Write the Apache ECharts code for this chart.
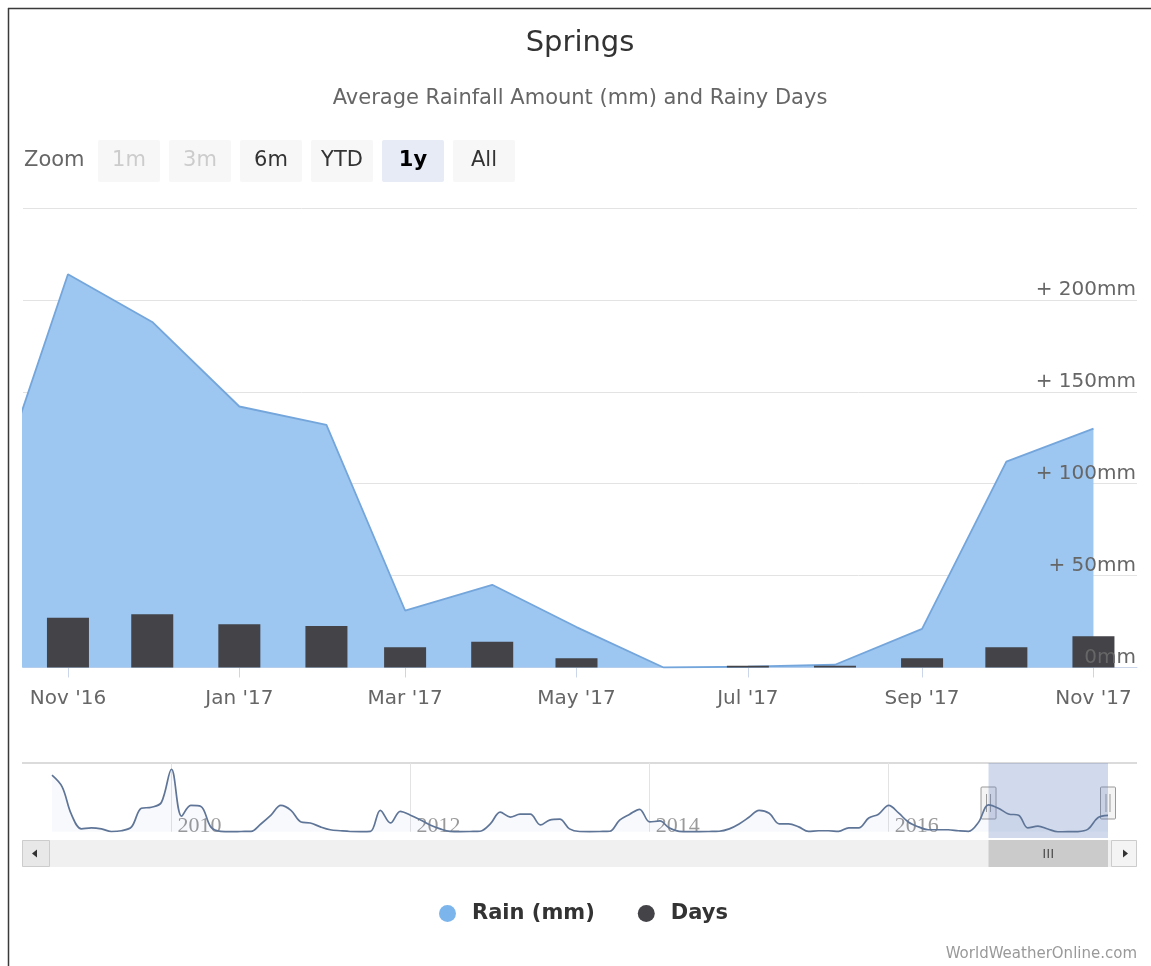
<!DOCTYPE html>
<html>
<head>
<meta charset="utf-8">
<script src="https://cdn.jsdelivr.net/npm/echarts@6/dist/echarts.min.js"></script>
<style>
html,body{margin:0;padding:0;background:#fff;}
#chart{width:1151px;height:966px;}
</style>
</head>
<body>
<div id="chart"></div>
<script>
// ---------------- DATA ----------------
// Monthly average rainfall (mm), read from the navigator: Jan 2009 .. Sep 2016
const historyStartMonth = '2009-01';
const rainHistory = [
  451, 358, 140, 23, 31, 23, 2, 8, 39, 187, 195, 233,   // 2009
  498, 124, 210, 202, 39, 3, 1, 2, 3, 62, 132, 210,     // 2010
  171, 78, 70, 39, 16, 8, 2, 1, 3, 171, 70, 163,        // 2011
  132, 93, 54, 23, 3, 1, 2, 4, 62, 156, 117, 140,       // 2012
  140, 54, 93, 101, 23, 2, 1, 2, 4, 93, 140, 179,       // 2013
  78, 86, 31, 3, 1, 1, 2, 4, 23, 62, 117, 171,          // 2014
  148, 62, 62, 39, 3, 8, 8, 3, 31, 31, 109, 140,        // 2015
  210, 148, 78, 39, 16, 16, 16, 8, 3                    // 2016 Jan-Sep
];
// Monthly rainfall (mm) in the zoomed view: Oct 2016 .. Nov 2017
const rainRecent = [73, 214, 188, 142, 132, 31, 45, 22, 0, 0.5, 1.5, 21, 112, 130];
// Rainy days: Nov 2016 .. Nov 2017
const daysStartMonth = '2016-11';
const rainyDays = [27, 29, 23.5, 22.6, 11, 14, 5, 0, 1, 1, 5, 11, 17];

// Axis ticks / labels
const xTickMonths = ['2016-11', '2017-01', '2017-03', '2017-05', '2017-07', '2017-09', '2017-11'];
const monthNames = ['Jan','Feb','Mar','Apr','May','Jun','Jul','Aug','Sep','Oct','Nov','Dec'];
const navYearTicks = ['2010-01', '2012-01', '2014-01', '2016-01'];
const zoomButtons = ['1m', '3m', '6m', 'YTD', '1y', 'All'];
const disabledButtons = ['1m', '3m'];
const selectedButton = '1y';
const navWindow = ['2016-11', '2017-11'];      // selected range in navigator
const navExtent = ['2009-01', '2017-11'];      // navigator axis extent
const seriesNames = ['Rain (mm)', 'Days'];

// ---------------- HELPERS ----------------
function monthTs(s) { const [y, m] = s.split('-').map(Number); return Date.UTC(y, m - 1, 1); }
function addMonths(s, k) { const [y, m] = s.split('-').map(Number); return Date.UTC(y, m - 1 + k, 1); }

const rainAll = rainHistory.concat(rainRecent);
const rainData = rainAll.map((v, i) => [addMonths(historyStartMonth, i), v]);
const daysData = rainyDays.map((v, i) => [addMonths(daysStartMonth, i), v]);

const viewStart = Date.UTC(2016, 9, 16, 0);
const viewEnd = Date.UTC(2017, 10, 16, 12);

const FONT = '"DejaVu Sans", "Lucida Grande", sans-serif';

const navMaxVal = Math.max.apply(null, rainAll);
const navPad = navMaxVal * 0.1;

function fmtMonth(v) {
  const d = new Date(v);
  return monthNames[d.getUTCMonth()] + " '" + String(d.getUTCFullYear()).slice(2);
}

const option = {
  animation: false,
  backgroundColor: '#fff',
  title: {
    text: 'Springs',
    subtext: 'Average Rainfall Amount (mm) and Rainy Days',
    left: 580, top: 29, padding: 0, itemGap: 30,
    textAlign: 'center',
    textStyle: { fontFamily: FONT, fontSize: 29, fontWeight: 'normal', color: '#333' },
    subtextStyle: { fontFamily: FONT, fontSize: 21, color: '#666' }
  },
  legend: {
    data: seriesNames,
    left: 439, top: 903, padding: 0,
    icon: 'circle', itemWidth: 17, itemHeight: 17, itemGap: 43,
    textStyle: { fontFamily: FONT, fontSize: 21, fontWeight: 'bold', color: '#333', padding: [0, 0, 0, 11] }
  },
  grid: [
    { left: 23, right: 14, top: 208, bottom: 298.5 },
    { left: 52, right: 43, top: 763, height: 75 }
  ],
  xAxis: [
    {
      type: 'value', gridIndex: 0, min: viewStart, max: viewEnd, scale: true,
      axisLine: { show: true, lineStyle: { color: '#ccd6eb', width: 1 } },
      axisTick: { show: true, customValues: xTickMonths.map(monthTs), length: 10, lineStyle: { color: '#ccd6eb' } },
      axisLabel: { customValues: xTickMonths.map(monthTs), formatter: fmtMonth, color: '#666', fontSize: 20, fontFamily: FONT, margin: 21, showMinLabel: true, showMaxLabel: true },
      splitLine: { show: false }
    },
    {
      type: 'value', gridIndex: 1, min: monthTs(navExtent[0]), max: monthTs(navExtent[1]), scale: true,
      axisLine: { show: false, onZero: true },
      axisTick: { show: true, inside: true, length: 69, customValues: navYearTicks.map(monthTs), lineStyle: { color: '#e3e3e3' } },
      axisLabel: {
        inside: true, customValues: navYearTicks.map(monthTs),
        formatter: v => String(new Date(v).getUTCFullYear()),
        align: 'left', padding: [0, 0, 0, 6], margin: 1,
        color: '#9a9a9a', fontSize: 22, fontFamily: '"Liberation Serif", serif'
      },
      splitLine: { show: false }
    }
  ],
  yAxis: [
    {
      type: 'value', gridIndex: 0, min: 0, max: 250, interval: 50, position: 'right',
      axisLine: { show: false }, axisTick: { show: false }, axisLabel: { show: false },
      splitLine: { show: true, lineStyle: { color: '#e3e3e3', width: 1 } }
    },
    {
      type: 'value', gridIndex: 0, min: 0, max: 250, interval: 50, position: 'right', z: 10,
      axisLine: { show: false }, axisTick: { show: false }, splitLine: { show: false },
      axisLabel: {
        inside: true, showMaxLabel: false, margin: 1, verticalAlign: 'bottom',
        formatter: v => (v === 0 ? '0mm' : '+ ' + v + 'mm'),
        color: '#666', fontSize: 20, fontFamily: FONT
      }
    },
    {
      type: 'value', gridIndex: 1, min: -navPad, max: navMaxVal + navPad, show: false
    }
  ],
  series: [
    {
      name: seriesNames[0], type: 'line', xAxisIndex: 0, yAxisIndex: 0,
      data: rainData, showSymbol: false, clip: true, z: 2,
      itemStyle: { color: '#7cb5ec' },
      lineStyle: { color: '#74a6dc', width: 1.8 },
      areaStyle: { color: '#9dc6f0', opacity: 1 }
    },
    {
      name: seriesNames[1], type: 'bar', xAxisIndex: 0, yAxisIndex: 0,
      data: daysData, barWidth: 42, z: 3,
      itemStyle: { color: '#434348' }
    },
    {
      name: 'Navigator', type: 'line', xAxisIndex: 1, yAxisIndex: 2,
      data: rainData, showSymbol: false, smooth: 0.35, silent: true, z: 2,
      lineStyle: { color: '#5f7597', width: 1.7 },
      areaStyle: { color: '#4572A7', opacity: 0.04 },
      markArea: {
        silent: true,
        itemStyle: { color: 'rgba(102,133,194,0.3)' },
        data: [[{ xAxis: monthTs(navWindow[0]) }, { xAxis: monthTs(navWindow[1]) }]]
      }
    }
  ]
};

const chart = echarts.init(document.getElementById('chart'));
chart.setOption(option);

const px0 = chart.convertToPixel({ xAxisIndex: 1 }, monthTs(navWindow[0]));
const px1 = chart.convertToPixel({ xAxisIndex: 1 }, monthTs(navWindow[1]));

function buildGraphics() {
  const g = [];
  g.push({ type: 'line', shape: { x1: 8, y1: 8.5, x2: 1151, y2: 8.5 }, style: { stroke: '#3a3a3a', lineWidth: 1.5 } });
  g.push({ type: 'line', shape: { x1: 8.5, y1: 8, x2: 8.5, y2: 966 }, style: { stroke: '#3a3a3a', lineWidth: 1.5 } });
  g.push({ type: 'text', x: 24, y: 161, style: { text: 'Zoom', fontFamily: FONT, fontSize: 21, fill: '#666', verticalAlign: 'middle' } });
  zoomButtons.forEach((b, i) => {
    const x = 98 + 71 * i;
    const sel = b === selectedButton;
    const dis = disabledButtons.indexOf(b) >= 0;
    g.push({ type: 'rect', shape: { x: x, y: 140, width: 62, height: 42, r: 2 },
      style: { fill: sel ? '#e6ebf5' : '#f7f7f7' } });
    g.push({ type: 'text', x: x + 31, y: 161, style: { text: b, fontFamily: FONT, fontSize: 21,
      fontWeight: sel ? 'bold' : 'normal', fill: dis ? '#cccccc' : (sel ? '#000' : '#333'),
      align: 'center', verticalAlign: 'middle' } });
  });
  g.push({ type: 'line', shape: { x1: 22, y1: 763, x2: 1137, y2: 763 }, style: { stroke: '#cfcfcf', lineWidth: 1.5 } });
  g.push({ type: 'rect', shape: { x: 22, y: 840, width: 1115, height: 27 }, style: { fill: '#f0f0f0' } });
  g.push({ type: 'rect', shape: { x: 22.5, y: 840.5, width: 27, height: 26 }, style: { fill: '#e8e8e8', stroke: '#cccccc', lineWidth: 1 } });
  g.push({ type: 'polygon', shape: { points: [[32, 853.5], [37, 849.5], [37, 857.5]] }, style: { fill: '#333' } });
  g.push({ type: 'rect', shape: { x: 1111.5, y: 840.5, width: 25, height: 26 }, style: { fill: '#f4f4f4', stroke: '#cccccc', lineWidth: 1 } });
  g.push({ type: 'polygon', shape: { points: [[1128, 853.5], [1123, 849.5], [1123, 857.5]] }, style: { fill: '#333' } });
  g.push({ type: 'rect', shape: { x: px0, y: 840, width: px1 - px0, height: 27 }, style: { fill: '#cbcbcb' } });
  const cx = (px0 + px1) / 2;
  [-4, 0, 4].forEach(d => {
    g.push({ type: 'line', shape: { x1: cx + d, y1: 849, x2: cx + d, y2: 858 }, style: { stroke: '#444', lineWidth: 1.2 } });
  });
  [px0, px1].forEach(p => {
    g.push({ type: 'rect', shape: { x: p - 7.5, y: 787, width: 15, height: 32, r: 1 }, style: { fill: '#f4f4f4', stroke: '#999', lineWidth: 1 } });
    g.push({ type: 'line', shape: { x1: p - 2, y1: 794, x2: p - 2, y2: 812 }, style: { stroke: '#999', lineWidth: 1 } });
    g.push({ type: 'line', shape: { x1: p + 2, y1: 794, x2: p + 2, y2: 812 }, style: { stroke: '#999', lineWidth: 1 } });
  });
  g.push({ type: 'text', x: 1137, y: 954, style: { text: 'WorldWeatherOnline.com', fontFamily: FONT, fontSize: 15, fill: '#999', align: 'right', verticalAlign: 'middle' } });
  return g;
}

chart.setOption({ graphic: buildGraphics() });
</script>
</body>
</html>
